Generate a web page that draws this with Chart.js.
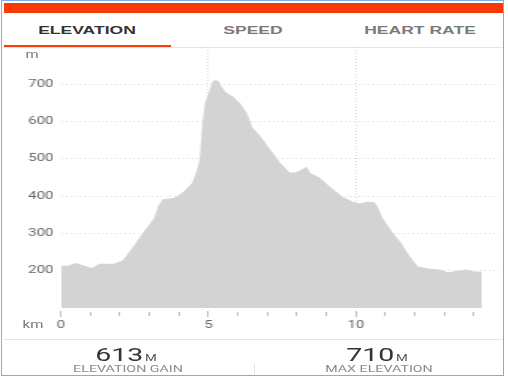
<!DOCTYPE html>
<html>
<head>
<meta charset="utf-8">
<script src="https://cdn.jsdelivr.net/npm/chart.js@4"></script>
<style>
  html, body { margin: 0; padding: 0; background: #fff; }
  body { width: 508px; height: 378px; position: relative; overflow: hidden; font-family: Roboto, sans-serif; }
  .frame { position: absolute; left: 1px; top: 0px; width: 503px; height: 376px; border: 1.5px solid #7aaee6; box-sizing: border-box; }
  .redbar { position: absolute; left: 4px; top: 3px; width: 499px; height: 10px; background: #fb3a0a; }
  .line { position: absolute; background: #e4e4e4; }
  .t { position: absolute; white-space: nowrap; line-height: 1; transform: translate(-50%, -50%) scaleX(1.5); }
  .tab { font-family: "Liberation Sans", Arial, sans-serif; font-weight: bold; font-size: 11.7px; color: #7a7a7a; }
  .tab.active { color: #333; }
  .unit { font-size: 10px; color: #777; }
  .big { font-size: 19px; color: #333; }
  .big span { font-size: 9px; color: #555; margin-left: 1px; }
  .cap { font-size: 9.5px; color: #8a8a8a; }
  .wrap { position: absolute; left: 0; top: 0; width: 339px; height: 378px; transform: scaleX(1.5); transform-origin: 0 0; }
</style>
</head>
<body>
<div class="frame"></div>
<div class="redbar"></div>

<div class="t tab active" style="left:87px; top:30px;">ELEVATION</div>
<div class="t tab" style="left:253px; top:30px;">SPEED</div>
<div class="t tab" style="left:420px; top:30px;">HEART RATE</div>
<div class="line" style="left:4px; top:47px; width:499px; height:1px;"></div>
<div style="position:absolute; left:4px; top:45px; width:167px; height:2px; background:#fb3a0a;"></div>

<div class="wrap"><canvas id="elevationChart"></canvas></div>

<div class="t unit" style="left:32px; top:55px;">m</div>
<div class="t unit" style="left:33px; top:325px;">km</div>

<div class="line" style="left:4px; top:339px; width:499px; height:1px;"></div>
<div class="line" style="left:254px; top:364px; width:1px; height:10px;"></div>
<div class="t big" id="gain" style="left:126px; top:354px;"></div>
<div class="t cap" style="left:128px; top:368.5px;">ELEVATION GAIN</div>
<div class="t big" id="maxEle" style="left:377px; top:354px;"></div>
<div class="t cap" style="left:379px; top:368.5px;">MAX ELEVATION</div>

<script>
const distanceKm = [0, 0.25, 0.5, 0.8, 1.05, 1.3, 1.8, 2.1, 2.5, 2.85, 3.15, 3.3, 3.45, 3.85, 4.15, 4.45, 4.6, 4.7, 4.78, 4.88, 5.02, 5.15, 5.32, 5.56, 5.83, 6.07, 6.3, 6.5, 6.75, 7.05, 7.42, 7.76, 8.0, 8.34, 8.44, 8.78, 9.12, 9.56, 9.9, 10.14, 10.37, 10.6, 10.7, 10.9, 11.25, 11.5, 11.83, 12.1, 12.5, 12.85, 13.12, 13.42, 13.76, 14.0, 14.27];
const elevationM = [213, 214, 221, 213, 207, 219, 219, 228, 270, 310, 340, 375, 392, 396, 412, 436, 468, 498, 586, 650, 680, 710, 710, 680, 667, 650, 623, 583, 562, 530, 490, 463, 465, 479, 463, 449, 425, 398, 385, 380, 385, 384, 377, 342, 302, 278, 238, 211, 205, 203, 195, 200, 203, 198, 197];
const yTickLabels = [200, 300, 400, 500, 600, 700];
const xTickLabels = [0, 5, 10];
const elevationGain = 613;
const maxElevation = 710;

document.addEventListener("DOMContentLoaded", function () {
  document.getElementById("gain").innerHTML = elevationGain + "<span>M</span>";
  document.getElementById("maxEle").innerHTML = maxElevation + "<span>M</span>";

  const points = distanceKm.map((km, i) => ({ x: km, y: elevationM[i] }));
  const ctx = document.getElementById("elevationChart").getContext("2d");

  const elevationChart = new Chart(ctx, {
    type: "line",
    data: {
      datasets: [
        {
          data: points,
          fill: "start",
          backgroundColor: "rgb(211,211,211)",
          borderWidth: 0,
          pointRadius: 0,
          tension: 0,
        },
      ],
    },
    options: {
      responsive: true,
      maintainAspectRatio: false,
      animation: false,
      layout: { padding: { left: 0, top: 47, right: 6.33, bottom: 0 } },
      plugins: { legend: { display: false }, tooltip: { enabled: false } },
      scales: {
        x: {
          type: "linear",
          min: 0,
          max: 14.85,
          afterFit: (scale) => { scale.height = 70; },
          border: { display: false, dash: [1, 2] },
          grid: {
            color: (c) => (c.tick && c.tick.value > 0 && c.tick.value % 5 === 0 ? "#dcdcdc" : "transparent"),
            tickColor: "#bdbdbd",
            tickLength: 9,
            tickBorderDash: (c) => (c.tick && c.tick.value % 5 === 0 ? [0, 3, 6, 60] : [0, 4, 4, 60]),
          },
          ticks: {
            stepSize: 1,
            includeBounds: false,
            autoSkip: false,
            maxRotation: 0,
            padding: 2,
            color: "#666",
            font: { family: "Roboto", size: 10 },
            callback: (value) => (xTickLabels.includes(value) ? String(value) : ""),
          },
        },
        y: {
          min: 100,
          max: 800,
          afterFit: (scale) => { scale.width = 40.67; },
          border: { display: false, dash: [1, 2] },
          grid: {
            drawTicks: false,
            color: (c) => (c.tick && yTickLabels.includes(c.tick.value) ? "#dcdcdc" : "transparent"),
          },
          ticks: {
            stepSize: 100,
            padding: 5,
            color: "#666",
            font: { family: "Roboto", size: 10 },
            callback: (value) => (yTickLabels.includes(value) ? String(value) : ""),
          },
        },
      },
    },
  });
});
</script>
</body>
</html>
